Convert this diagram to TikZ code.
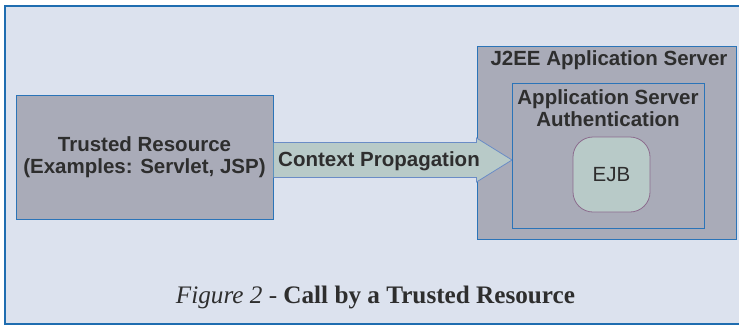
\documentclass[tikz,border=0pt]{standalone}
\usepackage{fontspec}
\newfontfamily\boxfont{Liberation Sans}
\newfontfamily\captionfont{Liberation Serif}
\definecolor{pagebg}{HTML}{DCE2EE}
\definecolor{framebl}{HTML}{1F6DB0}
\definecolor{boxgray}{HTML}{A9ABB8}
\definecolor{boxline}{HTML}{2B74B8}
\definecolor{sage}{HTML}{B8CAC8}
\definecolor{ejbline}{HTML}{8C6C8E}
\definecolor{arrowline}{HTML}{6A8CC6}
\definecolor{inktext}{HTML}{2E2E2E}
\tikzset{
  panel/.style={draw=boxline, line width=1pt, fill=boxgray, inner sep=0pt},
  heading/.style={font=\boxfont\bfseries\fontsize{20.5}{22}\selectfont,
    text=inktext, align=center, inner sep=0pt},
  plain/.style={font=\boxfont\fontsize{20.5}{22}\selectfont,
    text=inktext, inner sep=0pt},
  bean/.style={draw=ejbline, line width=0.8pt, fill=sage,
    rounded corners=20pt, inner sep=0pt},
  flowfill/.style={fill=sage},
  flowedge/.style={draw=arrowline, line width=0.8pt, line join=miter},
  captiontext/.style={font=\captionfont\fontsize{25.2}{27}\selectfont,
    text=inktext, inner sep=0pt}
}
\begin{document}
\begin{tikzpicture}[x=1pt, y=-1pt]
  \useasboundingbox (0,0) rectangle (739,325);
  % page background and frame
  \fill[pagebg] (5,6) rectangle (739,324);
  \draw[framebl, line width=2pt] (739,6) -- (5,6);
  \draw[framebl, line width=2pt] (5,324) -- (739,324);
  \draw[framebl, line width=2.8pt] (5,5) -- (5,325);

  % calling component
  \node[panel, heading, minimum width=257pt, minimum height=124pt]
    (trusted) at (144.5,157) {Trusted Resource\\(Examples: Servlet, JSP)};

  % application server
  \node[panel, minimum width=259pt, minimum height=193pt]
    (server) at (606.5,142.5) {};
  \node[heading, anchor=base] (servertitle) at (609,65.5)
    {J2EE Application Server};

  % context propagation arrow
  \coordinate (tip) at (512,160);
  \fill[flowfill] (trusted.east |- 0,142.5) -- (server.west |- 0,142.5)
    -- (server.west |- 0,138) -- (tip) -- (server.west |- 0,182)
    -- (server.west |- 0,177.5) -- (trusted.east |- 0,177.5) -- cycle;
  \draw[flowedge] (trusted.east |- 0,142.5) -- (server.west |- 0,142.5)
    -- (server.west |- 0,138) -- (tip) -- (server.west |- 0,182)
    -- (server.west |- 0,177.5) -- (trusted.east |- 0,177.5);
  \node[heading, anchor=base] (ctx) at (379,166.5) {Context Propagation};

  % authentication layer
  \node[panel, minimum width=192pt, minimum height=145pt]
    (auth) at (608,155.5) {};
  \node[heading, anchor=north] (authtitle) at (608,89)
    {Application Server\\Authentication};

  % enterprise bean
  \node[bean, plain, minimum width=77pt, minimum height=75pt]
    (ejb) at (611.5,174.5) {EJB};

  % caption
  \node[captiontext, anchor=base] (caption) at (375.5,303)
    {\textit{Figure 2} - \textbf{Call by a Trusted Resource}};
\end{tikzpicture}
\end{document}
